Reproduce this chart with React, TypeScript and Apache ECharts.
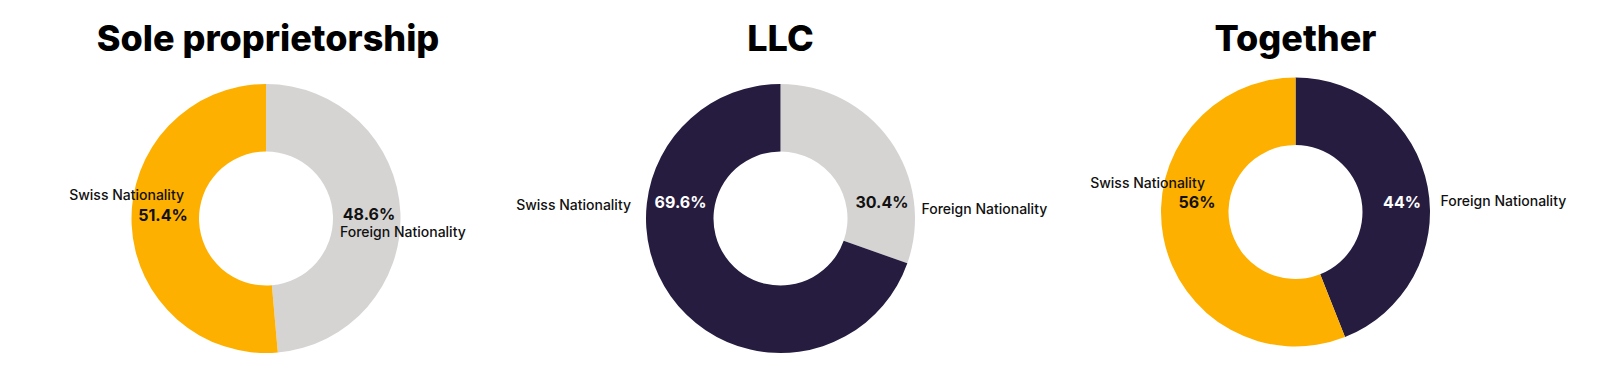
import React, { useEffect, useRef } from "react";
import * as echarts from "echarts";

// ---- data ----
const categories = ["Foreign Nationality", "Swiss Nationality"];
const titles = ["Sole proprietorship", "LLC", "Together"];
const soleValues = [48.6, 51.4];
const llcValues = [30.4, 69.6];
const togetherValues = [44, 56];

// ---- styling / layout ----
const ORANGE = "#FEB000";
const NAVY = "#261C40";
const GRAY = "#D5D4D3";
const FONT = "Inter, 'Noto Sans', sans-serif";

const charts = [
  {
    values: soleValues,
    colors: [GRAY, ORANGE],
    center: [266, 218.5],
    pct: [[369, 213.5], [163, 214.5]],
    names: [
      { x: 340, y: 231.5, align: "left" },
      { x: 184, y: 194, align: "right" },
    ],
    titleX: 263,
  },
  {
    values: llcValues,
    colors: [GRAY, NAVY],
    center: [780.5, 218.5],
    pct: [[882, 202], [680.5, 202]],
    names: [
      { x: 921.5, y: 208, align: "left" },
      { x: 631, y: 204, align: "right" },
    ],
    titleX: 775.5,
  },
  {
    values: togetherValues,
    colors: [NAVY, ORANGE],
    center: [1295.5, 212],
    pct: [[1402, 202], [1197, 202]],
    names: [
      { x: 1440.5, y: 200, align: "left" },
      { x: 1205, y: 182, align: "right" },
    ],
    titleX: 1290.5,
  },
];

export default function App() {
  const ref = useRef<HTMLDivElement>(null);
  useEffect(() => {
    if (!ref.current) return;
    const chart = echarts.init(ref.current, null, { renderer: "svg" });

    const series = charts.map((c) => ({
      type: "pie",
      center: c.center,
      radius: [67, 134.5],
      startAngle: 90,
      clockwise: true,
      silent: true,
      itemStyle: { borderWidth: 0 },
      label: {
        show: true,
        position: "inside",
        formatter: (p: any) => `${p.value}%`,
        fontFamily: FONT,
        fontWeight: 700,
        fontSize: 16,
        lineHeight: 16,
      },
      labelLine: { show: false },
      labelLayout: (params: any) => {
        const pos = c.pct[params.dataIndex];
        return { x: pos[0], y: pos[1], align: "center", verticalAlign: "middle" };
      },
      data: c.values.map((v, i) => ({
        name: categories[i],
        value: v,
        itemStyle: { color: c.colors[i] },
        label: { color: c.colors[i] === NAVY ? "#ffffff" : "#111111" },
      })),
    }));

    const graphics: any[] = [];
    charts.forEach((c) => {
      c.names.forEach((n, i) => {
        graphics.push({
          type: "text",
          x: n.x,
          y: n.y,
          style: {
            text: categories[i],
            fill: "#111111",
            font: `500 14px ${FONT}`,
            textAlign: n.align,
            textVerticalAlign: "middle",
          },
          z: 100,
        });
      });
    });

    chart.setOption({
      animation: false,
      backgroundColor: "#ffffff",
      title: charts.map((c, i) => ({
        text: titles[i],
        left: c.titleX,
        top: 15,
        textAlign: "center",
        textStyle: {
          fontFamily: FONT,
          fontWeight: 800,
          fontSize: 36,
          color: "#000000",
        },
      })),
      series,
      graphic: graphics,
    });

    return () => chart.dispose();
  }, []);

  return (
    <div
      ref={ref}
      style={{ position: "fixed", left: 0, top: 0, width: 1600, height: 377 }}
    />
  );
}
